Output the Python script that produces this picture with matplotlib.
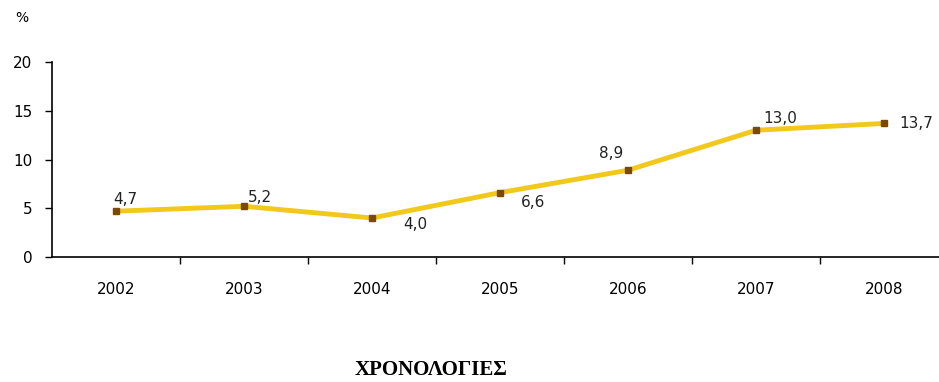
import matplotlib
matplotlib.use("Agg")
import matplotlib.pyplot as plt

years = ["2002", "2003", "2004", "2005", "2006", "2007", "2008"]
values = [4.7, 5.2, 4.0, 6.6, 8.9, 13.0, 13.7]
# where each value label sits next to its point: (dx, dy) in pixels, ha, va
label_pos = [(-3, 4, "left", "bottom"), (4, 1, "left", "bottom"), (31, 1, "left", "top"),
             (21, -2, "left", "top"), (-5, 9, "right", "bottom"), (7, 4, "left", "bottom"),
             (15, 0, "left", "center")]

plt.rcParams.update({"font.family": "DejaVu Sans", "font.size": 11})

fig = plt.figure(figsize=(9.39, 3.82), dpi=100)
W, H = 939, 382
ax = fig.add_axes([52 / W, 1 - 257 / H, 896 / W, (257 - 62) / H])

x = list(range(len(years)))
ax.plot(x, values, color="#F2C81A", lw=3.5, solid_joinstyle="round", zorder=2)
ax.plot(x, values, ls="none", marker="s", ms=5, mfc="#7A4A05", mec="#7A4A05", zorder=3)

for xi, v, (dx, dy, ha, va) in zip(x, values, label_pos):
    ax.annotate(f"{v:.1f}".replace(".", ","), (xi, v), xytext=(dx, dy),
                textcoords="offset pixels", ha=ha, va=va, fontsize=11, color="#222222")

ax.set_xlim(-0.5, 6.5)
ax.set_ylim(0, 20)
ax.set_yticks([0, 5, 10, 15, 20])
ax.set_xticks(x)
ax.set_xticklabels(years)
ax.set_xticks([i + 0.5 for i in range(6)], minor=True)
ax.tick_params(axis="x", which="major", length=0, pad=18)
ax.tick_params(axis="x", which="minor", length=5, direction="out", width=1)
ax.tick_params(axis="y", length=5, direction="out", width=1, pad=9)
for s in ("top", "right"):
    ax.spines[s].set_visible(False)
for s in ("left", "bottom"):
    ax.spines[s].set_linewidth(1.2)

fig.text(15 / W, 1 - 18 / H, "%", fontsize=10, ha="left", va="center")
fig.text(431 / W, 2 / H, "ΧΡΟΝΟΛΟΓΙΕΣ", fontsize=15, fontweight="bold",
         family="Liberation Serif", ha="center", va="bottom")

fig.savefig("out.png", dpi=100)
